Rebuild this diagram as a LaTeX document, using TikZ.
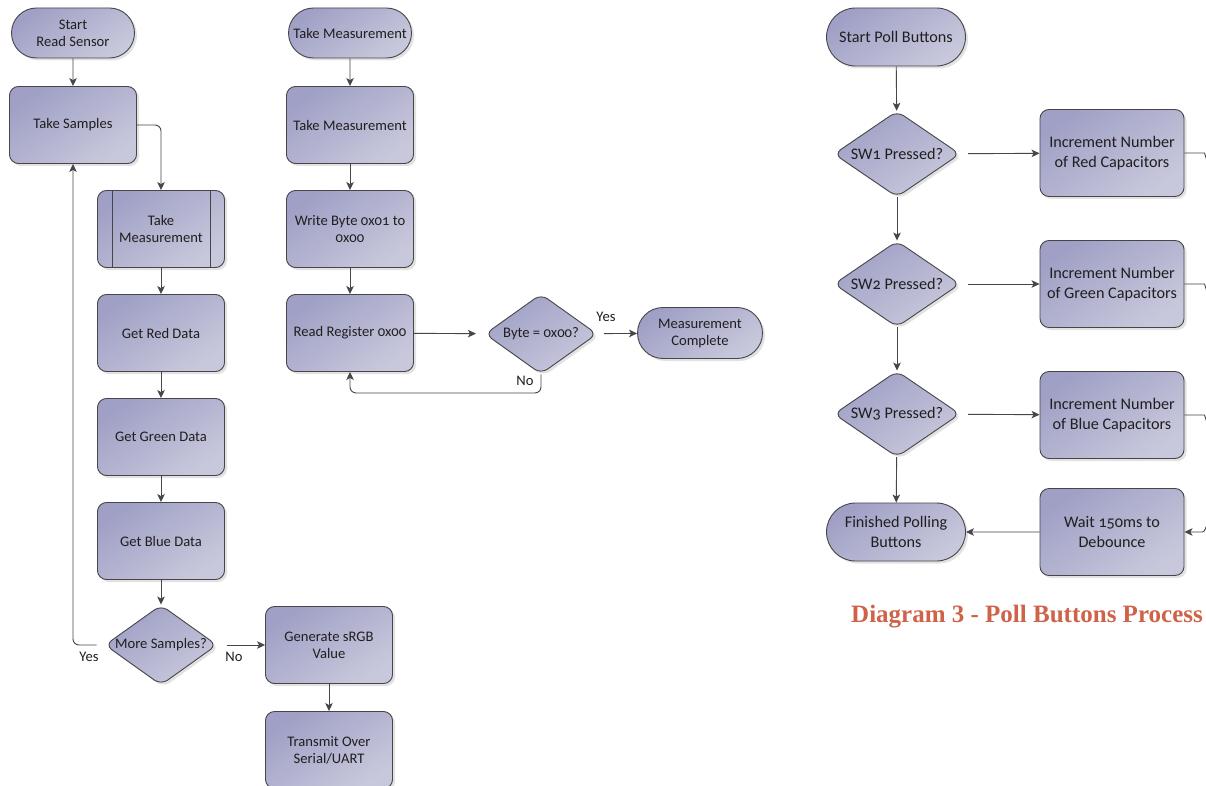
\documentclass[tikz,border=0pt]{standalone}
\usepackage{fontspec}
\setmainfont{Carlito}[Numbers=OldStyle]
\newfontfamily\titlefont{Liberation Serif}
\usetikzlibrary{shapes.geometric,shapes.misc,shadows,arrows.meta}

\definecolor{boxA}{RGB}{160,160,198}
\definecolor{boxB}{RGB}{200,200,220}
\definecolor{lineC}{RGB}{70,70,74}
\definecolor{titleC}{RGB}{207,99,73}

\begin{document}
\begin{tikzpicture}[x=1pt,y=-1pt,
  box/.style={draw=lineC,line width=0.9pt,top color=boxA,bottom color=boxB,shading angle=35,
    drop shadow={shadow xshift=2.5pt,shadow yshift=-2.5pt,fill=black!22},
    align=center,inner sep=2pt,text=black!88,font=\fontsize{14.6}{17}\selectfont},
  proc/.style={box,rectangle,rounded corners=9pt,minimum width=127pt,minimum height=77pt},
  predef/.style={proc},
  term/.style={box,rounded rectangle,minimum width=127pt,minimum height=50pt},
  decide/.style={box,diamond,rounded corners=8pt,inner xsep=-14pt,inner ysep=-6pt,
    minimum width=112pt,minimum height=80pt},
  big/.style={font=\fontsize{16.2}{20}\selectfont},
  proc3/.style={proc,big,minimum width=144pt,minimum height=87pt},
  term3/.style={term,big,minimum width=143pt,minimum height=58pt},
  decide3/.style={decide,big,minimum width=126pt,minimum height=86pt},
  line/.style={draw=lineC,line width=0.9pt,rounded corners=6pt},
  conn/.style={line,-{Stealth[length=8pt,width=7.5pt,inset=2pt]}},
  lbl/.style={inner sep=1pt,text=black!88,font=\fontsize{14.6}{15}\selectfont},
  title/.style={inner sep=0pt,text=titleC,font=\titlefont\bfseries\fontsize{25}{28}\selectfont}]
\fill[white] (0,0) rectangle (1206,786);
\useasboundingbox (0,0) rectangle (1206,786);

% read sensor
\node[term] (start) at (73,33) {Start\\Read Sensor};
\node[proc] (samples) at (73,125) {Take Samples};
\node[predef] (meas) at (161,229) {Take\\Measurement};
\draw[line] ([xshift=15pt]meas.north west) -- ([xshift=15pt]meas.south west)
  ([xshift=-15pt]meas.north east) -- ([xshift=-15pt]meas.south east);
\node[proc] (red) at (161,333) {Get Red Data};
\node[proc] (green) at (161,437) {Get Green Data};
\node[proc] (blue) at (161,541) {Get Blue Data};
\node[decide] (more) at (161,645) {More Samples?};
\node[proc] (srgb) at (329,645) {Generate sRGB\\Value};
\node[proc] (uart) at (329,750) {Transmit Over\\Serial/UART};
\node[lbl] (yes1) at (89,657) {Yes};
\node[lbl] (no1) at (234,657) {No};

\draw[conn] (start) -- (samples);
\draw[conn] (samples.east) -| (meas.north);
\draw[conn] (meas) -- (red);
\draw[conn] (red) -- (green);
\draw[conn] (green) -- (blue);
\draw[conn] (blue) -- (more);
\draw[conn] ([xshift=-8pt]more.west) -| (samples.south);
\draw[conn] ([xshift=10pt]more.east) -- (srgb.west);
\draw[conn] (srgb) -- (uart);

% take measurement
\node[term] (tmstart) at (350,33) {Take Measurement};
\node[proc] (tmbox) at (350,125) {Take Measurement};
\node[proc] (write) at (350,229) {Write Byte 0x01 to\\0x00};
\node[proc] (readreg) at (350,333) {Read Register 0x00};
\node[decide] (byte) at (541,334) {Byte = 0x00?};
\node[term,minimum width=129pt,minimum height=51pt] (done) at (700,333) {Measurement\\Complete};
\node[lbl] (yes2) at (606,317) {Yes};
\node[lbl] (no2) at (525,381) {No};

\draw[conn] (tmstart) -- (tmbox);
\draw[conn] (tmbox) -- (write);
\draw[conn] (write) -- (readreg);
\draw[conn,shorten >=9pt] (readreg) -- (byte);
\draw[conn,shorten <=7pt] (byte) -- (done);
\draw[conn] (byte.south) |- ([yshift=-21pt]readreg.south) -- (readreg.south);

% poll buttons
\node[term3] (poll) at (896,37) {Start Poll Buttons};
\node[decide3] (sw1) at (897,154) {SW1 Pressed?};
\node[proc3] (incred) at (1112,153) {Increment Number\\of Red Capacitors};
\node[decide3] (sw2) at (897,284) {SW2 Pressed?};
\node[proc3] (incgreen) at (1112,284) {Increment Number\\of Green Capacitors};
\node[decide3] (sw3) at (897,414) {SW3 Pressed?};
\node[proc3] (incblue) at (1112,415) {Increment Number\\of Blue Capacitors};
\node[term3] (finished) at (896,532) {Finished Polling\\Buttons};
\node[proc3] (wait) at (1112,532) {Wait 150ms to\\Debounce};
\node[title] (diag) at (1027,617) {Diagram 3 - Poll Buttons Process};

\draw[conn] (poll) -- (sw1);
\draw[conn] (sw1) -- (sw2);
\draw[conn] (sw2) -- (sw3);
\draw[conn] (sw3) -- (finished);
\draw[conn,shorten <=8pt] (sw1) -- (incred);
\draw[conn,shorten <=8pt] (sw2) -- (incgreen);
\draw[conn,shorten <=8pt] (sw3) -- (incblue);
\draw[conn] (wait) -- (finished);

% loose ends at the right edge
\coordinate (redout) at (1208,166);
\coordinate (greenout) at (1208,297);
\coordinate (blueout) at (1208,428);
\coordinate (waitin) at (1208,521);
\draw[line] (incred.east) -- ++(14,0) .. controls +(6,0) and +(-1,-6) .. (redout);
\draw[line] (incgreen.east) -- ++(14,0) .. controls +(6,0) and +(-1,-6) .. (greenout);
\draw[line] (incblue.east) -- ++(14,0) .. controls +(6,0) and +(-1,-6) .. (blueout);
\draw[conn] (waitin) .. controls +(-2,7) and +(8,0) .. ([xshift=12pt]wait.east) -- (wait.east);
\end{tikzpicture}
\end{document}
